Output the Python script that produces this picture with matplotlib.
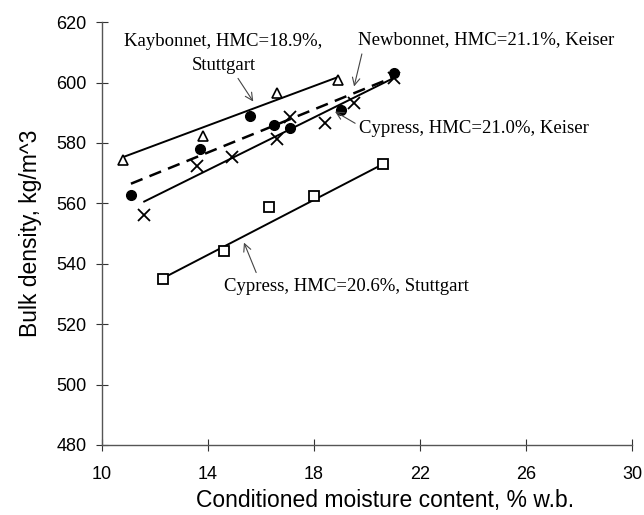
import matplotlib
matplotlib.use('Agg')
import matplotlib.pyplot as plt

# Kaybonnet, HMC=18.9%, Stuttgart (open triangles)
kay_mc = [10.8, 13.8, 16.6, 18.9]
kay_bd = [574.4, 582.3, 596.5, 600.9]
kay_fit_mc = [10.8, 18.9]
kay_fit_bd = [575.3, 601.8]

# Newbonnet, HMC=21.1%, Keiser (filled circles, dashed fit)
new_mc = [11.1, 13.7, 15.6, 16.5, 17.1, 19.0, 21.0]
new_bd = [562.8, 578.0, 589.0, 585.9, 584.9, 591.0, 603.1]
new_fit_mc = [11.1, 21.0]
new_fit_bd = [566.5, 601.8]

# Cypress, HMC=21.0%, Keiser (crosses)
cyk_mc = [11.6, 13.6, 14.9, 16.6, 17.1, 18.4, 19.5, 21.0]
cyk_bd = [556.2, 572.5, 575.5, 581.4, 588.7, 586.5, 593.2, 601.5]
cyk_fit_mc = [11.6, 21.0]
cyk_fit_bd = [560.6, 601.5]

# Cypress, HMC=20.6%, Stuttgart (open squares)
cys_mc = [12.3, 14.6, 16.3, 18.0, 20.6]
cys_bd = [534.9, 544.3, 558.7, 562.3, 573.0]
cys_fit_mc = [12.3, 20.6]
cys_fit_bd = [535.2, 573.0]

x_ticks = [10, 14, 18, 22, 26, 30]
y_ticks = [480, 500, 520, 540, 560, 580, 600, 620]

fig = plt.figure(figsize=(6.44, 5.15), dpi=100)
ax = fig.add_axes([0.158, 0.136, 0.824, 0.821])

ax.plot(kay_fit_mc, kay_fit_bd, color='black', lw=1.4)
ax.plot(kay_mc, kay_bd, ls='none', marker='^', ms=7, mfc='white', mec='black', mew=1.2)

ax.plot(new_fit_mc, new_fit_bd, color='black', lw=1.8, ls=(0, (5, 3)))
ax.plot(new_mc, new_bd, ls='none', marker='o', ms=7, color='black')

ax.plot(cyk_fit_mc, cyk_fit_bd, color='black', lw=1.4)
ax.plot(cyk_mc, cyk_bd, ls='none', marker='x', ms=8, color='black', mew=1.3)

ax.plot(cys_fit_mc, cys_fit_bd, color='black', lw=1.4)
ax.plot(cys_mc, cys_bd, ls='none', marker='s', ms=7, mfc='white', mec='black', mew=1.3)

ax.set_xlim(10, 30)
ax.set_ylim(480, 620)
ax.set_xticks(x_ticks)
ax.set_yticks(y_ticks)
for side in ['top', 'right']:
    ax.spines[side].set_visible(False)
for side in ['left', 'bottom']:
    ax.spines[side].set_color('#555555')
    ax.spines[side].set_linewidth(1.0)
ax.tick_params(direction='inout', length=8, width=0.8, color='#333333',
               labelsize=13)
ax.tick_params(axis='x', pad=11)
ax.tick_params(axis='y', pad=7)
for lbl in ax.get_xticklabels() + ax.get_yticklabels():
    lbl.set_family('Liberation Sans')

ax.set_xlabel('Conditioned moisture content, % w.b.', fontsize=16.5,
              family='Liberation Sans')
ax.xaxis.set_label_coords(0.534, -0.104)
ax.set_ylabel('Bulk density, kg/m^3', fontsize=16.5,
              family='Liberation Sans', labelpad=10)

serif = 'Liberation Serif'
fs = 13.5
ap = dict(arrowstyle='->', color='#444444', lw=0.8)

ax.annotate('Kaybonnet, HMC=18.9%,\nStuttgart', xy=(15.71, 593.7),
            xytext=(14.59, 609.6), fontsize=fs, family=serif,
            ha='center', va='center', linespacing=1.6,
            arrowprops=dict(ap, shrinkA=1, shrinkB=0, relpos=(0.56, 0.0)))
ax.annotate('Newbonnet, HMC=21.1%, Keiser', xy=(19.51, 598.7),
            xytext=(19.66, 614.1), fontsize=fs, family=serif,
            ha='left', va='center',
            arrowprops=dict(ap, shrinkA=2, shrinkB=0, relpos=(0.02, 0.0)))
ax.annotate('Cypress, HMC=21.0%, Keiser', xy=(18.79, 590.4),
            xytext=(19.70, 584.9), fontsize=fs, family=serif,
            ha='left', va='center',
            arrowprops=dict(ap, shrinkA=1, shrinkB=0, relpos=(0.0, 0.65)))
ax.annotate('Cypress, HMC=20.6%, Stuttgart', xy=(15.36, 547.0),
            xytext=(14.61, 532.5), fontsize=fs, family=serif,
            ha='left', va='center',
            arrowprops=dict(ap, shrinkA=2, shrinkB=0, relpos=(0.14, 1.0)))

fig.savefig('out.png', dpi=100)
